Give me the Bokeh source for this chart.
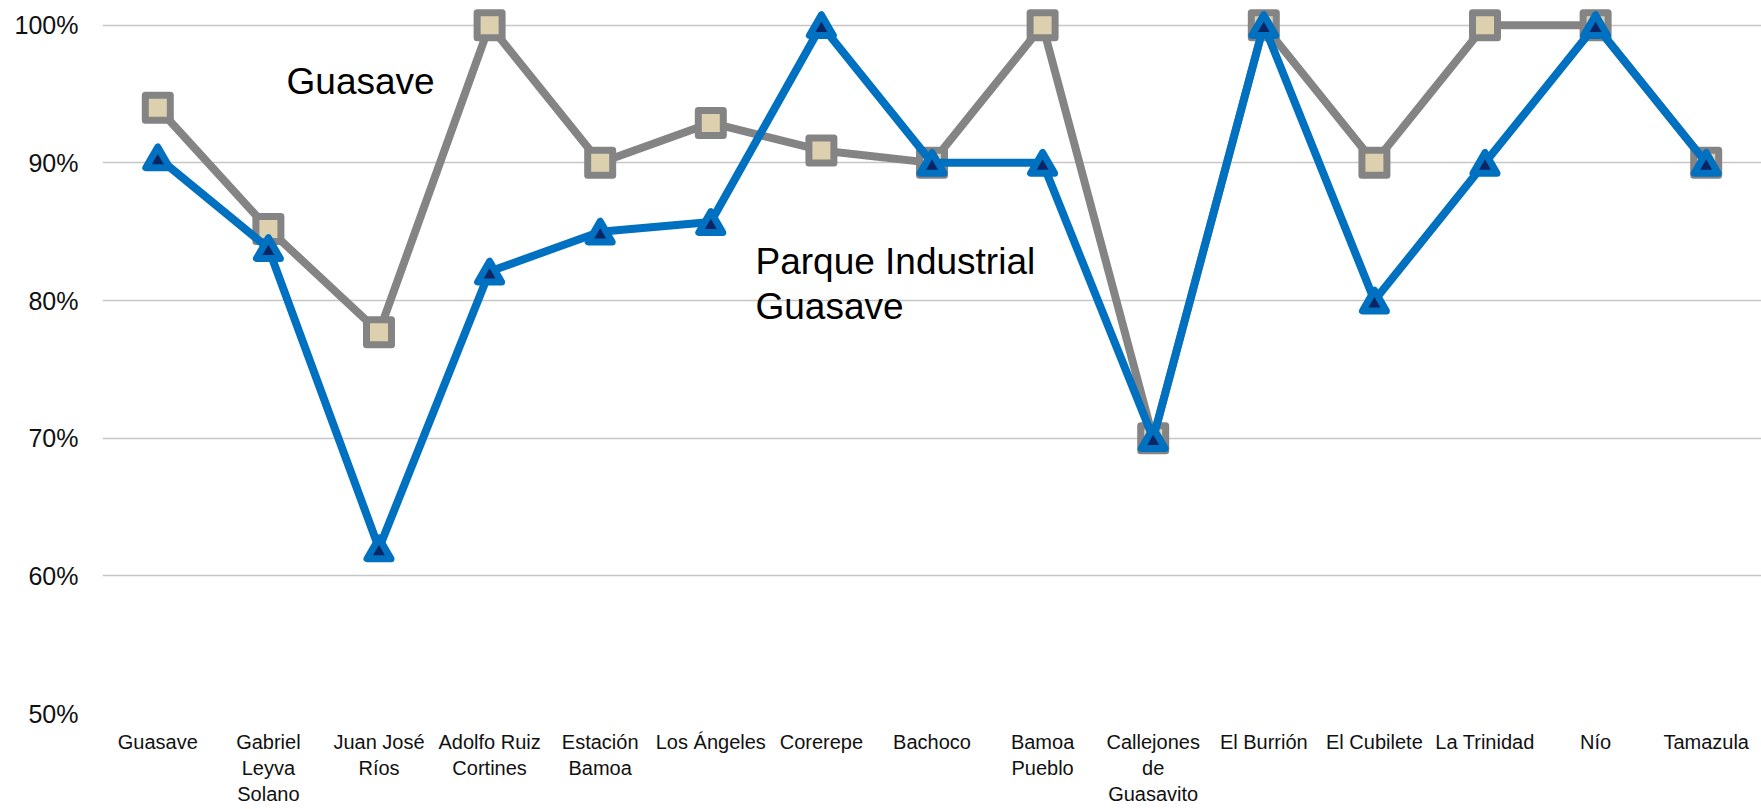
from bokeh.plotting import figure
from bokeh.models import Range1d, FactorRange, FixedTicker, NumeralTickFormatter, Label, ColumnDataSource
from bokeh.transform import dodge
from bokeh.embed import file_html
from bokeh.resources import INLINE

categories = ["Guasave", "Gabriel\nLeyva\nSolano", "Juan José\nRíos", "Adolfo Ruiz\nCortines",
              "Estación\nBamoa", "Los Ángeles", "Corerepe", "Bachoco", "Bamoa\nPueblo",
              "Callejones\nde\nGuasavito", "El Burrión", "El Cubilete", "La Trinidad", "Nío", "Tamazula"]
guasave = [0.94, 0.852, 0.777, 1.00, 0.90, 0.929, 0.909, 0.90, 1.00, 0.70, 1.00, 0.90, 1.00, 1.00, 0.90]
parque = [0.904, 0.838, 0.620, 0.821, 0.850, 0.857, 1.00, 0.90, 0.90, 0.70, 1.00, 0.80, 0.90, 1.00, 0.90]
y_ticks = [0.5, 0.6, 0.7, 0.8, 0.9, 1.0]

src = ColumnDataSource(dict(cat=categories, g=guasave, p=parque))

p = figure(width=1761, height=809, x_range=FactorRange(*categories),
           y_range=Range1d(0.5, 1.01794), output_backend="svg", toolbar_location=None,
           min_border_left=102, min_border_right=0, min_border_top=0, min_border_bottom=96)
p.outline_line_color = None
p.xgrid.grid_line_color = None
p.ygrid.grid_line_color = "#C6C6C6"
p.ygrid.grid_line_width = 1.6
p.yaxis.ticker = FixedTicker(ticks=y_ticks)
p.yaxis.formatter = NumeralTickFormatter(format="0%")
for ax in (p.xaxis, p.yaxis):
    ax.axis_line_color = None
    ax.major_tick_line_color = None
    ax.minor_tick_line_color = None
    ax.major_tick_out = 0
    ax.major_tick_in = 0
p.yaxis.major_label_text_font = "Liberation Sans"
p.yaxis.major_label_text_font_size = "25px"
p.yaxis.major_label_text_color = "#111111"
p.yaxis.major_label_standoff = 24
p.xaxis.major_label_text_font = "Liberation Sans"
p.xaxis.major_label_text_font_size = "20px"
p.xaxis.major_label_text_color = "#111111"
p.xaxis.major_label_standoff = 17

p.line("cat", "g", source=src, line_color="#848484", line_width=8, line_join="round")
p.scatter("cat", "g", source=src, marker="square", size=25, fill_color="#DDD0AE",
          line_color="#848484", line_width=7, line_join="round")
p.line("cat", "p", source=src, line_color="#0070C0", line_width=8, line_join="round")
p.scatter("cat", dodge("p", -0.0025), source=src, marker="triangle", size=24, fill_color="#0B2463",
          line_color="#0070C0", line_width=7, line_join="round")

lab_font = "Liberation Sans"
p.add_layout(Label(x=1.664, y=0.959, text="Guasave", text_font=lab_font, text_font_size="37px",
                   text_baseline="alphabetic", text_color="#000000"))
p.add_layout(Label(x=5.904, y=0.828, text="Parque Industrial", text_font=lab_font, text_font_size="37px",
                   text_baseline="alphabetic", text_color="#000000"))
p.add_layout(Label(x=5.904, y=0.7953, text="Guasave", text_font=lab_font, text_font_size="37px",
                   text_baseline="alphabetic", text_color="#000000"))

open("out.html", "w").write(file_html(p, INLINE))
